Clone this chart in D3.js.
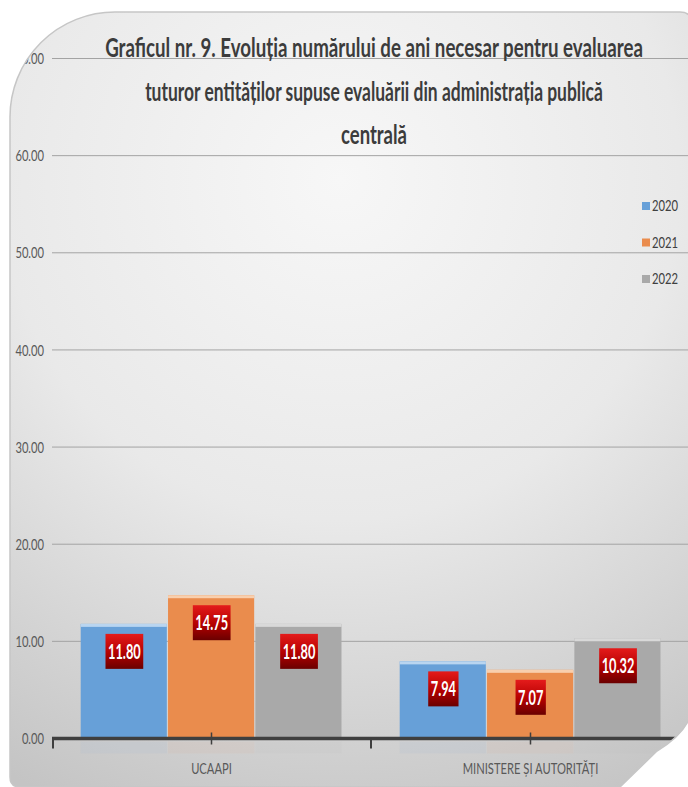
<!DOCTYPE html>
<html>
<head>
<meta charset="utf-8">
<script src="https://cdn.jsdelivr.net/npm/d3@7/dist/d3.min.js"></script>
<style>
  html, body { margin: 0; padding: 0; background: #ffffff; }
  svg { display: block; }
  text { font-family: Lato, "Open Sans", "DejaVu Sans", sans-serif; }
</style>
</head>
<body>
<svg id="chart" width="688" height="787"></svg>
<script>
// ---- data ----
const categories = ["UCAAPI", "MINISTERE ȘI AUTORITĂȚI"];
const seriesNames = ["2020", "2021", "2022"];
const values2020 = [11.80, 7.94];
const values2021 = [14.75, 7.07];
const values2022 = [11.80, 10.32];
const yTicks = [0, 10, 20, 30, 40, 50, 60, 70];
const titleLines = [
  "Graficul nr. 9. Evoluția numărului de ani necesar pentru evaluarea",
  "tuturor entităților supuse evaluării din administrația publică",
  "centrală"
];

const seriesValues = [values2020, values2021, values2022];
const colors = ["#67a0d8", "#ea8c4d", "#a9a9a9"];
const topColors = ["#b9d5f0", "#f8cfae", "#d9d9d9"];
const titleSpan = [538, 458, 66];   // rendered width of each title line

const W = 688, H = 787;
const svg = d3.select("#chart");
const defs = svg.append("defs");

// squeeze text horizontally around its anchor point (condensed look)
function condense(sel, f) {
  sel.each(function (d, i) {
    const k = typeof f === "function" ? f.call(this, d, i) : f;
    const x = +this.getAttribute("x") || 0, yy = +this.getAttribute("y") || 0;
    this.setAttribute("transform",
      `translate(${x},${yy}) scale(${k},1) translate(${-x},${-yy})`);
  });
  return sel;
}

// ---- card shape ----
const cardPath = [
  "M10,117", "A105,105 0 0 1 115,12", "L680,12", "Q692,12 692,24",
  "L692,705", "C692,725 675,740 657,751", "L620,787",
  "L20,787", "Q10,787 10,777", "Z"
].join(" ");

const bg = defs.append("radialGradient").attr("id", "bgGrad")
  .attr("gradientUnits", "userSpaceOnUse")
  .attr("cx", 340).attr("cy", 180).attr("r", 680);
bg.append("stop").attr("offset", 0).attr("stop-color", "#f7f7f7");
bg.append("stop").attr("offset", 0.5).attr("stop-color", "#e9e9e9");
bg.append("stop").attr("offset", 1).attr("stop-color", "#c4c4c4");

defs.append("clipPath").attr("id", "cardClip")
  .append("path").attr("d", cardPath);

const lab = defs.append("linearGradient").attr("id", "labGrad")
  .attr("x1", 0).attr("y1", 0).attr("x2", 0).attr("y2", 1);
lab.append("stop").attr("offset", 0).attr("stop-color", "#e41b1b");
lab.append("stop").attr("offset", 0.55).attr("stop-color", "#b30000");
lab.append("stop").attr("offset", 1).attr("stop-color", "#6a0000");

svg.append("path").attr("d", cardPath).attr("fill", "url(#bgGrad)");

const g = svg.append("g").attr("clip-path", "url(#cardClip)");

// ---- scales ----
const plotLeft = 52, plotRight = 690;
const y = d3.scaleLinear().domain([0, 70]).range([738.5, 58.5]);
const x0 = d3.scaleBand().domain(categories).range([plotLeft, plotRight]).padding(0);
const x1 = d3.scaleBand().domain(seriesNames).range([28.7, x0.bandwidth() - 28.3]).padding(0);

// ---- gridlines + y labels ----
g.append("g").selectAll("line").data(yTicks.filter(d => d > 0)).join("line")
  .attr("x1", plotLeft).attr("x2", W)
  .attr("y1", d => y(d)).attr("y2", d => y(d))
  .attr("stroke", "#a3a3a3").attr("stroke-width", 1);

const yl = g.append("g").selectAll("text").data(yTicks).join("text")
  .attr("x", 44).attr("y", d => y(d)).attr("dy", "0.35em")
  .attr("text-anchor", "end").attr("font-size", 16).attr("fill", "#595959")
  .text(d => d3.format(".2f")(d));
condense(yl, 0.7);

// ---- bars ----
const groups = g.append("g").selectAll("g").data(categories).join("g")
  .attr("transform", d => `translate(${x0(d)},0)`);

const barData = (c, ci) => seriesNames.map((s, si) => ({ s, si, v: seriesValues[si][ci] }));

groups.each(function (c, ci) {
  const gg = d3.select(this);
  // faint reflection below the axis
  gg.selectAll("rect.refl").data(barData(c, ci)).join("rect").attr("class", "refl")
    .attr("x", d => x1(d.s)).attr("width", x1.bandwidth() - 1)
    .attr("y", y(0) + 3).attr("height", 12)
    .attr("fill", d => colors[d.si]).attr("opacity", 0.06);

  gg.selectAll("rect.bar").data(barData(c, ci)).join("rect").attr("class", "bar")
    .attr("x", d => x1(d.s)).attr("width", x1.bandwidth() - 1.2)
    .attr("y", d => y(d.v)).attr("height", d => y(0) - y(d.v))
    .attr("fill", d => colors[d.si]);

  gg.selectAll("rect.hl").data(barData(c, ci)).join("rect").attr("class", "hl")
    .attr("x", d => x1(d.s)).attr("width", x1.bandwidth() - 1.2)
    .attr("y", d => y(d.v)).attr("height", 3)
    .attr("fill", d => topColors[d.si]);
});

// ---- value labels ----
groups.each(function (c, ci) {
  const gg = d3.select(this);
  barData(c, ci).forEach(d => {
    const cx = x1(d.s) + x1.bandwidth() / 2;
    const top = y(d.v) + 10;
    const lg = gg.append("g");
    const box = lg.append("rect").attr("fill", "url(#labGrad)");
    const t = lg.append("text")
      .attr("x", cx).attr("y", top + 18).attr("dy", "0.35em")
      .attr("text-anchor", "middle").attr("font-size", 20).attr("font-weight", "bold")
      .attr("fill", "#ffffff").text(d3.format(".2f")(d.v));
    const f = 0.64;
    const w = t.node().getComputedTextLength() * f + 5;
    condense(t, f);
    box.attr("x", cx - w / 2).attr("width", w).attr("y", top).attr("height", 35);
  });
});

// ---- x axis ----
const ax = g.append("g");
ax.append("line").attr("x1", plotLeft).attr("x2", W)
  .attr("y1", y(0)).attr("y2", y(0))
  .attr("stroke", "#3f3f3f").attr("stroke-width", 3.5);
const bounds = [plotLeft + 1, x0(categories[1]), plotRight];
ax.selectAll("line.bt").data(bounds).join("line").attr("class", "bt")
  .attr("x1", d => d).attr("x2", d => d)
  .attr("y1", y(0)).attr("y2", y(0) + 10)
  .attr("stroke", "#3f3f3f").attr("stroke-width", 2);
ax.selectAll("line.ct").data(categories).join("line").attr("class", "ct")
  .attr("x1", d => x0(d) + x0.bandwidth() / 2).attr("x2", d => x0(d) + x0.bandwidth() / 2)
  .attr("y1", y(0) - 6).attr("y2", y(0) + 6)
  .attr("stroke", "#3f3f3f").attr("stroke-width", 1.5);
const xl = ax.selectAll("text").data(categories).join("text")
  .attr("x", d => x0(d) + x0.bandwidth() / 2).attr("y", 768).attr("dy", "0.35em")
  .attr("text-anchor", "middle").attr("font-size", 16).attr("fill", "#595959")
  .text(d => d);
condense(xl, 0.7);

// ---- legend ----
const leg = g.append("g").selectAll("g").data(seriesNames).join("g")
  .attr("transform", (d, i) => `translate(642,${206 + i * 36.5})`);
leg.append("rect").attr("x", 0).attr("y", -4).attr("width", 8).attr("height", 8)
  .attr("fill", (d, i) => colors[i]);
const lt = leg.append("text").attr("x", 10).attr("y", 0).attr("dy", "0.35em")
  .attr("font-size", 15).attr("fill", "#404040").text(d => d);
condense(lt, 0.75);

// ---- title ----
const tt = svg.append("g").selectAll("text").data(titleLines).join("text")
  .attr("x", 374).attr("y", (d, i) => 48 + i * 43.5).attr("dy", "0.35em")
  .attr("text-anchor", "middle").attr("font-size", 27).attr("font-weight", "bold")
  .attr("fill", "#3c3c3c")
  .text(d => d);
condense(tt, function (d, i) { return titleSpan[i] / this.getComputedTextLength(); });

// rim of the card
svg.append("path").attr("d", cardPath).attr("fill", "none")
  .attr("stroke", "#c6c6c6").attr("stroke-width", 1.5);
</script>
</body>
</html>
